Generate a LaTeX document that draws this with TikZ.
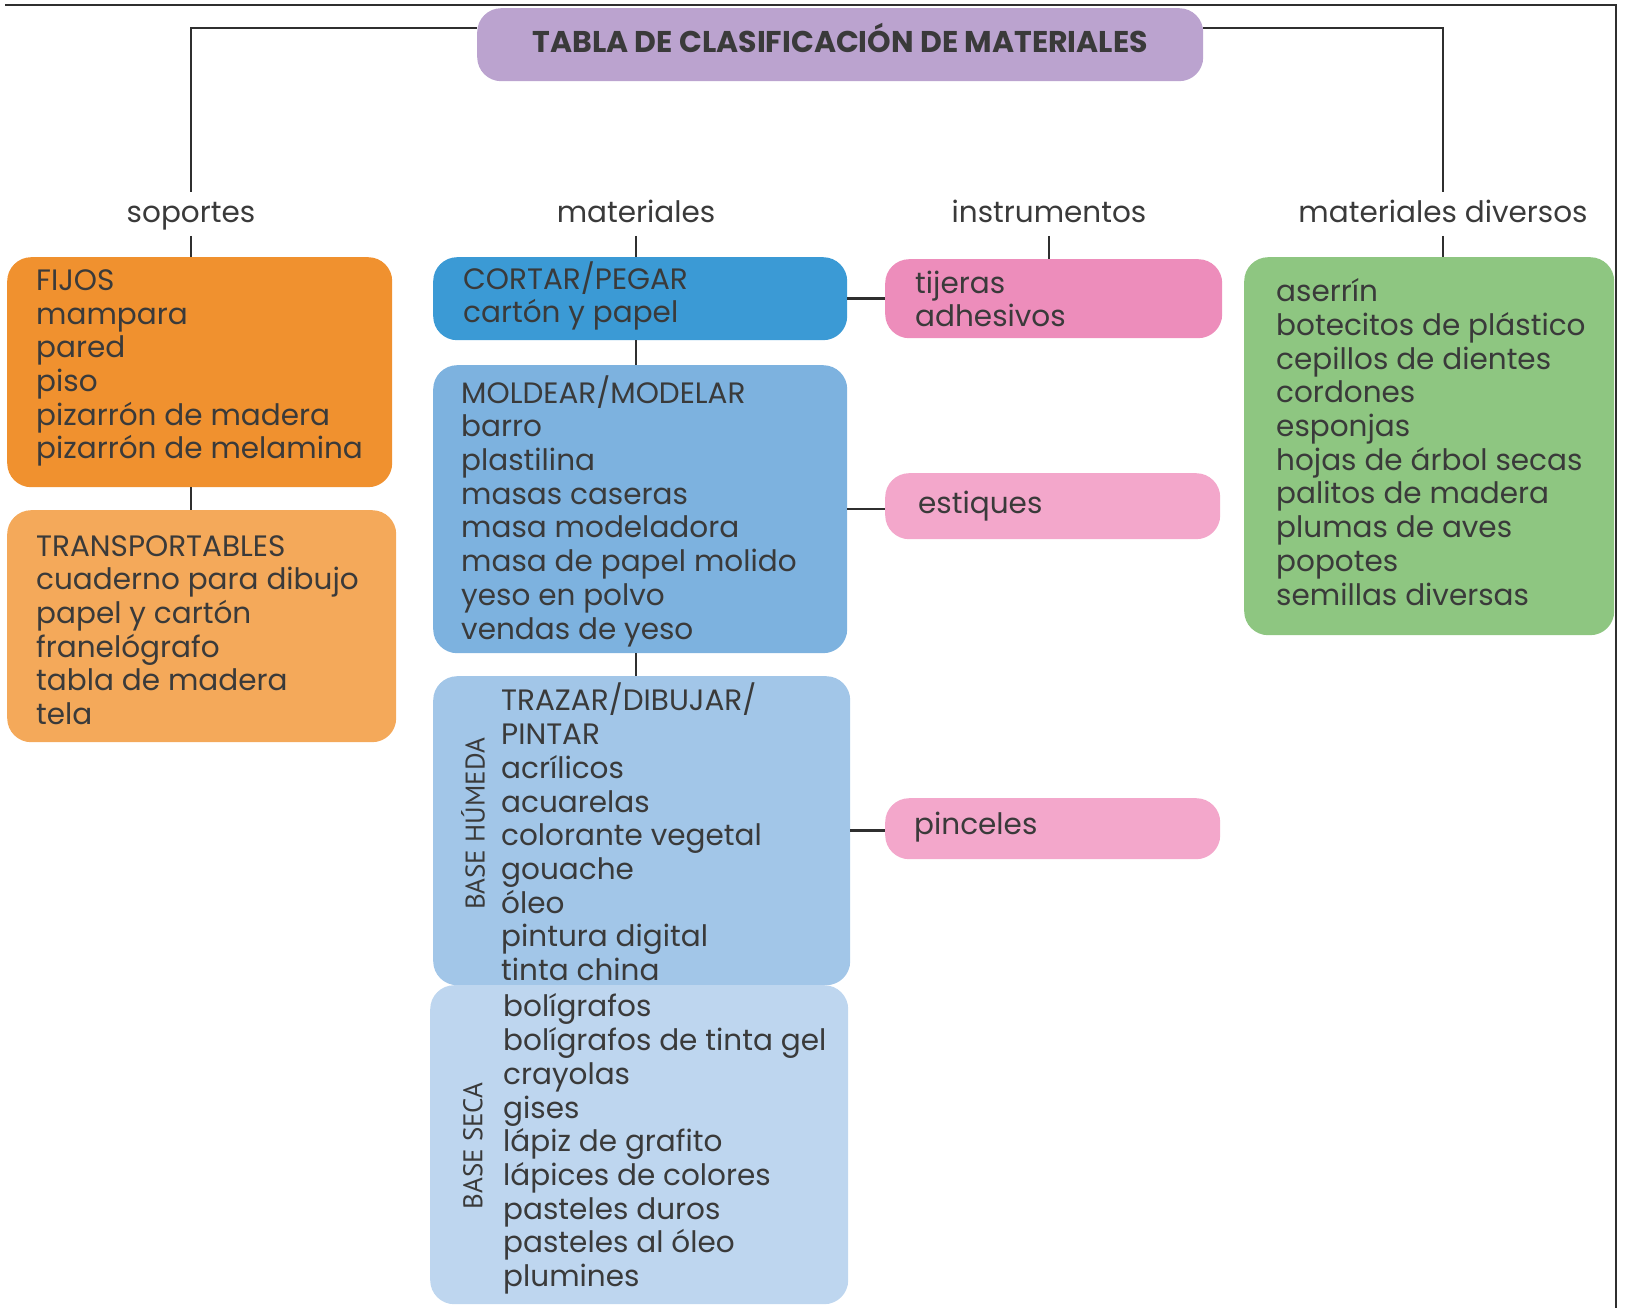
\documentclass[tikz,border=0pt]{standalone}
\usepackage{fontspec}
\setmainfont{Poppins}
\newfontfamily\sidefont{PT Sans}
\definecolor{titlecol}{HTML}{BBA3CF}
\definecolor{fijoscol}{HTML}{F0912F}
\definecolor{transpcol}{HTML}{F4A95A}
\definecolor{cortarcol}{HTML}{3B9AD5}
\definecolor{moldearcol}{HTML}{7DB2DF}
\definecolor{trazarcol}{HTML}{A2C6E8}
\definecolor{secacol}{HTML}{BED6EF}
\definecolor{tijerascol}{HTML}{ED8DBB}
\definecolor{pinkcol}{HTML}{F3A7CB}
\definecolor{diversoscol}{HTML}{8EC681}
\definecolor{textcol}{HTML}{3A3A3A}
\definecolor{linecol}{HTML}{2F2F2F}
\begin{document}
\begin{tikzpicture}[x=1pt,y=-1pt,
    box/.style={rounded corners=24pt, anchor=north west, inner sep=0pt},
    txt/.style={anchor=west, align=left, inner sep=0pt, text=textcol,
        font=\fontsize{29.5}{33.7}\selectfont},
    head/.style={anchor=base, inner sep=0pt, text=textcol,
        font=\fontsize{29.5}{33}\selectfont},
    side/.style={rotate=90, inner sep=0pt, text=textcol,
        font=\sidefont\fontsize{27}{30}\selectfont},
    conn/.style={draw=linecol, line width=2.5pt}]
    \useasboundingbox (0,0) rectangle (1626,1308);
    \draw[linecol, line width=2.5pt] (5,5) -- (1616,5) -- (1616,1308);

    \node[box, fill=titlecol, minimum width=726pt, minimum height=73pt,
        text height=22pt, text depth=6pt,
        text=textcol, font=\bfseries\fontsize{30}{34}\selectfont] (title) at (477,8)
        {TABLA DE CLASIFICACIÓN DE MATERIALES};

    \node[head] (lsop) at (191,223) {soportes};
    \node[head] (lmat) at (636,223) {materiales};
    \node[head] (lins) at (1049,223) {instrumentos};
    \node[head] (ldiv) at (1443,223) {materiales diversos};

    \node[box, fill=fijoscol, minimum width=385pt, minimum height=230pt] (fijos) at (7,257) {};
    \node[box, fill=transpcol, minimum width=389pt, minimum height=232pt] (transp) at (7,510) {};
    \node[box, fill=cortarcol, minimum width=414pt, minimum height=83pt] (cortar) at (433,257) {};
    \node[box, fill=moldearcol, minimum width=414pt, minimum height=288pt] (moldear) at (433,365) {};
    \node[box, fill=trazarcol, minimum width=417pt, minimum height=309pt] (trazar) at (433,676) {};
    \node[box, fill=secacol, minimum width=418pt, minimum height=319pt] (seca) at (430,985) {};
    \node[box, fill=tijerascol, minimum width=337pt, minimum height=79pt] (tijeras) at (885,259) {};
    \node[box, fill=pinkcol, minimum width=335pt, minimum height=66pt] (estiques) at (885,473) {};
    \node[box, fill=pinkcol, minimum width=335pt, minimum height=61pt] (pinceles) at (885,798) {};
    \node[box, fill=diversoscol, minimum width=370pt, minimum height=378pt] (diversos) at (1244,257) {};

    \node[txt] (tfijos) at (36,368) {FIJOS\\mampara\\pared\\piso\\pizarrón de madera\\pizarrón de melamina};
    \node[txt] (ttransp) at (36,630) {TRANSPORTABLES\\cuaderno para dibujo\\papel y cartón\\franelógrafo\\tabla de madera\\tela};
    \node[txt] (tcortar) at (463,296) {CORTAR/PEGAR\\cartón y papel};
    \node[txt] (tmoldear) at (461,511) {MOLDEAR/MODELAR\\barro\\plastilina\\masas caseras\\masa modeladora\\masa de papel molido\\yeso en polvo\\vendas de yeso};
    \node[txt] (ttrazar) at (501,832) {TRAZAR/DIBUJAR/\\PINTAR\\acrílicos\\acuarelas\\colorante vegetal\\gouache\\óleo\\pintura digital\\tinta china};
    \node[txt] (tseca) at (503,1144) {bolígrafos\\bolígrafos de tinta gel\\crayolas\\gises\\lápiz de grafito\\lápices de colores\\pasteles duros\\pasteles al óleo\\plumines};
    \node[txt] (ttijeras) at (915,299) {tijeras\\adhesivos};
    \node[txt] (testiques) at (918,506) {estiques};
    \node[txt] (tpinceles) at (914,827) {pinceles};
    \node[txt] (tdiversos) at (1276,442) {aserrín\\botecitos de plástico\\cepillos de dientes\\cordones\\esponjas\\hojas de árbol secas\\palitos de madera\\plumas de aves\\popotes\\semillas diversas};

    \node[side] (humeda) at (473,824) {BASE HÚMEDA};
    \node[side] (basesec) at (473,1146) {BASE SECA};

    \draw[conn] ([yshift=16.5pt]title.west) -| (lsop |- 0,192);
    \draw[conn] ([yshift=16.5pt]title.east) -| (ldiv |- 0,192);
    \draw[conn] (lsop |- 0,236) -- (lsop |- fijos.north);
    \draw[conn] (lmat |- 0,236) -- (lmat |- cortar.north);
    \draw[conn] (lins |- 0,236) -- (lins |- tijeras.north);
    \draw[conn] (ldiv |- 0,236) -- (ldiv |- diversos.north);
    \draw[conn] (lsop |- fijos.south) -- (lsop |- transp.north);
    \draw[conn] (lmat |- cortar.south) -- (lmat |- moldear.north);
    \draw[conn] (lmat |- moldear.south) -- (lmat |- trazar.north);
    \draw[conn] (cortar.east) -- (cortar.east -| tijeras.west);
    \draw[conn] (moldear.east) -- (moldear.east -| estiques.west);
    \draw[conn] (trazar.east) -- (trazar.east -| pinceles.west);
\end{tikzpicture}
\end{document}
